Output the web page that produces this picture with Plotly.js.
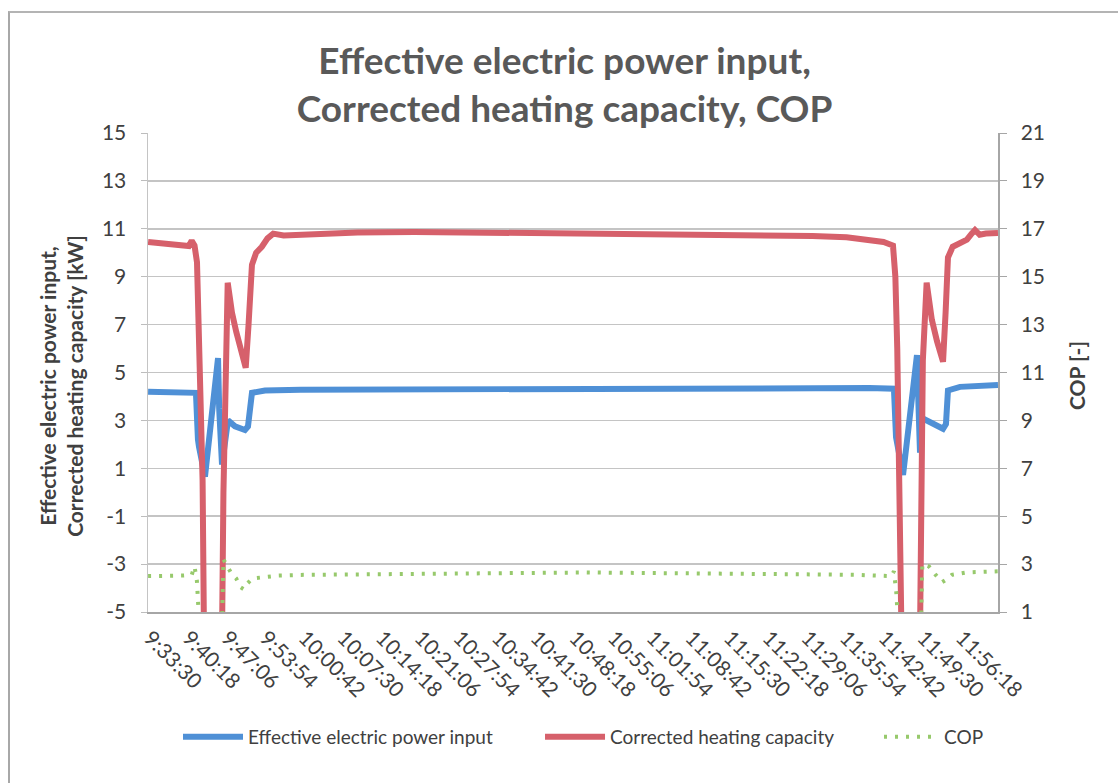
<!DOCTYPE html>
<html><head><meta charset="utf-8">
<script src="https://cdn.plot.ly/plotly-3.0.1.min.js"></script>
<style>
html,body{margin:0;padding:0;background:#fff;overflow:hidden}
#chart{width:1118px;height:783px}
#frame{position:absolute;left:8px;top:11px;width:1200px;height:900px;border-left:2px solid #a8a8a8;border-top:2px solid #b4b4b4;pointer-events:none}
</style></head><body>
<div id="chart"></div><div id="frame"></div>
<script>
// ---- data (times as clock strings) ----
const tickLabels = ["9:33:30","9:40:18","9:47:06","9:53:54","10:00:42","10:07:30","10:14:18","10:21:06","10:27:54","10:34:42","10:41:30","10:48:18","10:55:06","11:01:54","11:08:42","11:15:30","11:22:18","11:29:06","11:35:54","11:42:42","11:49:30","11:56:18"];

const powerTime = ["9:33:10","9:36:00","9:39:00","9:41:35","9:41:56","9:42:07","9:43:10","9:44:00","9:44:50","9:45:28","9:45:40","9:46:10","9:47:13","9:48:27","9:50:12","9:50:44","9:51:26","9:53:43","10:00:00","10:20:00","10:40:00","11:00:00","11:20:00","11:40:00","11:44:20","11:44:42","11:45:56","11:47:00","11:48:23","11:48:40","11:48:55","11:49:16","11:51:33","11:52:58","11:53:29","11:53:50","11:55:57","11:59:00","12:02:38"];
const power = [4.2,4.2,4.18,4.15,2.2,1.9,0.65,2.5,4.0,5.6,3.5,1.15,3.0,2.75,2.6,2.75,4.15,4.25,4.28,4.3,4.3,4.32,4.35,4.35,4.32,2.3,0.72,3.0,5.73,3.5,1.65,3.1,2.8,2.65,2.85,4.25,4.4,4.45,4.48];

const heatTime = ["9:33:10","9:34:30","9:36:00","9:37:30","9:39:00","9:40:20","9:40:50","9:41:20","9:41:46","9:42:05","9:42:25","9:42:45","9:43:00","9:46:10","9:46:25","9:46:45","9:47:10","9:47:30","9:47:55","9:48:40","9:49:30","9:50:20","9:50:50","9:51:26","9:52:10","9:53:10","9:54:10","9:55:10","9:57:00","10:00:00","10:05:00","10:10:00","10:20:00","10:30:00","10:40:00","10:50:00","11:00:00","11:10:00","11:20:00","11:30:00","11:36:00","11:40:00","11:42:30","11:44:10","11:44:35","11:44:55","11:45:15","11:45:40","11:48:55","11:49:10","11:49:25","11:50:05","11:50:30","11:51:00","11:51:55","11:52:58","11:53:25","11:53:50","11:54:40","11:55:50","11:57:10","11:58:00","11:58:35","11:59:25","12:00:30","12:02:38"];
const heat = [10.45,10.42,10.38,10.35,10.32,10.28,10.5,10.3,9.6,6.5,3.5,0.5,-6,-6,0,5,8.75,8.2,7.5,6.7,5.9,5.2,7.0,9.5,10.0,10.25,10.6,10.8,10.72,10.75,10.8,10.85,10.87,10.85,10.83,10.82,10.8,10.78,10.75,10.7,10.65,10.55,10.45,10.3,9.0,6.0,2.0,-6,-6,0,5.5,8.75,7.8,7.2,6.3,5.45,7.5,9.8,10.25,10.4,10.55,10.8,10.95,10.75,10.8,10.82];

const copTime = ["9:33:10","9:35:00","9:37:00","9:39:00","9:40:50","9:41:20","9:41:45","9:42:10","9:46:10","9:46:25","9:47:00","9:47:50","9:48:40","9:49:20","9:50:00","9:50:40","9:51:30","9:53:00","9:56:00","10:00:00","10:10:00","10:20:00","10:30:00","10:40:00","10:50:00","11:00:00","11:10:00","11:20:00","11:30:00","11:38:00","11:43:50","11:44:20","11:44:45","11:45:05","11:49:05","11:49:20","11:50:30","11:51:40","11:52:50","11:53:30","11:54:30","11:57:00","12:02:38"];
const cop = [2.5,2.5,2.5,2.52,2.55,2.9,2.3,0.5,0.5,3.2,2.95,2.6,2.4,2.05,1.95,2.2,2.4,2.45,2.52,2.55,2.57,2.58,2.62,2.64,2.65,2.63,2.62,2.6,2.57,2.55,2.5,2.7,1.8,0.5,0.5,3.0,2.9,2.55,2.25,2.35,2.55,2.65,2.7];

const leftTicks = [-5,-3,-1,1,3,5,7,9,11,13,15];
const leftTickText = ["-5","-3","-1","1","3","5","7","9","11","13","15"];
const rightTicks = [1,3,5,7,9,11,13,15,17,19,21];

// ---- helpers ----
const toSec = s => { const p = s.split(':').map(Number); return p[0]*3600 + p[1]*60 + p[2]; };
const tickVals = tickLabels.map(toSec);

const traces = [
  {x: powerTime.map(toSec), y: power, type:'scatter', mode:'lines', name:'Effective electric power input',
   line:{color:'#4f90d6', width:6}, legend:'legend', hoverinfo:'skip'},
  {x: heatTime.map(toSec), y: heat, type:'scatter', mode:'lines', name:'Corrected heating capacity',
   line:{color:'#d6606b', width:6}, legend:'legend2', hoverinfo:'skip'},
  {x: copTime.map(toSec), y: cop, type:'scatter', mode:'lines', name:'COP', yaxis:'y2',
   line:{color:'#97c96c', width:4, dash:'3px,8px'}, legend:'legend3', hoverinfo:'skip'}
];

const axisFont = {family:'Lato, sans-serif', size:21, color:'#404040'};
const legFont = {family:'Lato, sans-serif', size:19, color:'#404040'};

const layout = {
  width:1118, height:783,
  margin:{l:148, r:120, t:133, b:171},
  paper_bgcolor:'#ffffff', plot_bgcolor:'#ffffff',
  font:{family:'Lato, sans-serif', color:'#404040'},
  title:{text:'Effective electric power input,<br>Corrected heating capacity, COP',
    font:{family:'Lato, sans-serif', size:37, color:'#595959', weight:'bold'},
    x:0.505, xanchor:'center', xref:'container', y:0.906, yanchor:'middle', yref:'container'},
  xaxis:{range:[toSec('9:33:30')-21, toSec('9:33:30')+8948], tickmode:'array', tickvals:tickVals, ticktext:tickLabels,
    tickangle:45, tickfont:axisFont, showgrid:false, zeroline:false, showline:true,
    linecolor:'#a6a6a6', linewidth:1.5, ticks:'', ticklabelstandoff:4},
  yaxis:{range:[-5,15], tickmode:'array', tickvals:leftTicks, ticktext:leftTickText, tickfont:axisFont,
    showgrid:true, gridcolor:'#c4c4c4', gridwidth:1.5, zeroline:false,
    showline:true, linecolor:'#c4c4c4', linewidth:1.5, ticks:'outside', ticklen:6, tickcolor:'#bdbdbd', ticklabelstandoff:10},
  yaxis2:{range:[1,21], overlaying:'y', side:'right', tickmode:'array', tickvals:rightTicks, tickfont:axisFont,
    showgrid:false, zeroline:false, showline:true, linecolor:'#a6a6a6', linewidth:1.5,
    ticks:'outside', ticklen:7, tickcolor:'#a6a6a6', ticklabelstandoff:10},
  showlegend:true,
  legend:{orientation:'h', x:0.0353, xanchor:'left', y:-0.261, yanchor:'middle', font:legFont, bgcolor:'rgba(0,0,0,0)', itemwidth:60},
  legend2:{orientation:'h', x:0.4612, xanchor:'left', y:-0.261, yanchor:'middle', font:legFont, bgcolor:'rgba(0,0,0,0)', itemwidth:60},
  legend3:{orientation:'h', x:0.860, xanchor:'left', y:-0.261, yanchor:'middle', font:legFont, bgcolor:'rgba(0,0,0,0)', itemwidth:55},
  annotations:[
    {text:'Effective electric power input,<br>Corrected heating capacity [kW]', textangle:-90,
     xref:'paper', yref:'paper', x:-0.1024, y:0.472, xanchor:'center', yanchor:'middle', showarrow:false,
     font:{family:'Lato, sans-serif', size:21, color:'#404040', weight:'bold'}},
    {text:'COP [-]', textangle:-90, xref:'paper', yref:'paper', x:1.093, y:0.4927, xanchor:'center', yanchor:'middle',
     showarrow:false, font:{family:'Lato, sans-serif', size:21, color:'#404040', weight:'bold'}}
  ]
};

Plotly.newPlot('chart', traces, layout, {staticPlot:true, displayModeBar:false});
</script></body></html>
